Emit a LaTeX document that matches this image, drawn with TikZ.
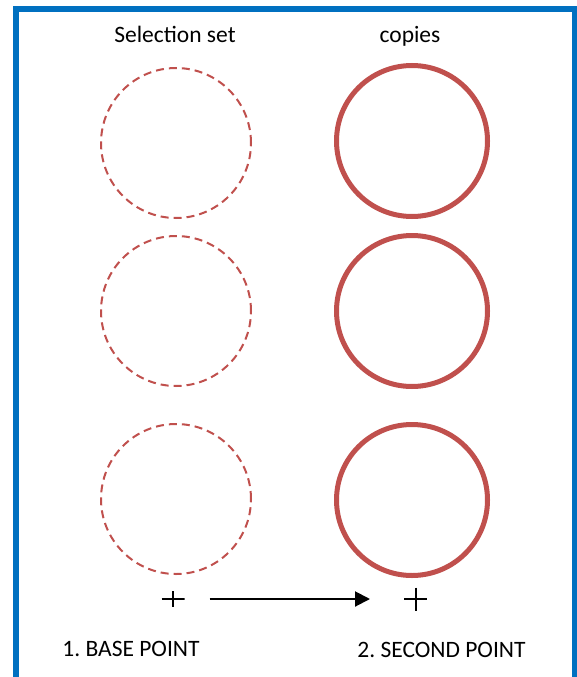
\documentclass[tikz,border=0pt]{standalone}
\usepackage{fontspec}
\setmainfont{Carlito}
\usetikzlibrary{arrows.meta,positioning}
\definecolor{copyred}{HTML}{C0504D}
\definecolor{frameblue}{HTML}{0070C0}
\frenchspacing
\begin{document}
\begin{tikzpicture}[x=1pt,y=1pt,font=\fontsize{23.5}{28}\selectfont,>=Latex,node distance=18pt,
 sel/.style={draw=copyred,circle,dash pattern=on 8pt off 5pt,line width=2pt,minimum size=150pt,inner sep=0pt,outer sep=0pt},
 cpy/.style={draw=copyred,circle,line width=5pt,minimum size=151pt,inner sep=0pt,outer sep=0pt},
 pnt/.style={inner sep=0pt,outer sep=0pt,minimum width=23pt,minimum height=23pt,
  path picture={\draw[line width=2pt] (path picture bounding box.west)--(path picture bounding box.east)
   (path picture bounding box.north)--(path picture bounding box.south);}},
 flow/.style={-{Triangle[length=15pt,width=15pt]},line width=2pt}]
\useasboundingbox (0,0) rectangle (577,-677);
% frame, open at the bottom
\draw[frameblue,line width=6pt] (16,-690)--(16,-9)--(575,-9)--(575,-690);
% selection set and its copies
\node[sel] (s1) at (176,-143) {};
\node[sel,below=18pt of s1] (s2) {};
\node[sel,below=38pt of s2] (s3) {};
\node[cpy] (c1) at (412,-141) {};
\node[cpy,below=19pt of c1] (c2) {};
\node[cpy,below=38pt of c2] (c3) {};
\node[anchor=base] (selt) at (175,-43) {Selection set};
\node[anchor=base] (cpyt) at (410,-43) {copies};
% base point to second point
\node[pnt,minimum height=16pt] (bp) at (173,-599) {};
\node[pnt] (sp) at (415.5,-599) {};
\draw[flow,shorten <=25pt,shorten >=34pt] (bp)--(sp);
\node[anchor=base] (bpt) at (131,-656) {1. BASE POINT};
\node[anchor=base] (spt) at (441.5,-657) {2. SECOND POINT};
\end{tikzpicture}
\end{document}
